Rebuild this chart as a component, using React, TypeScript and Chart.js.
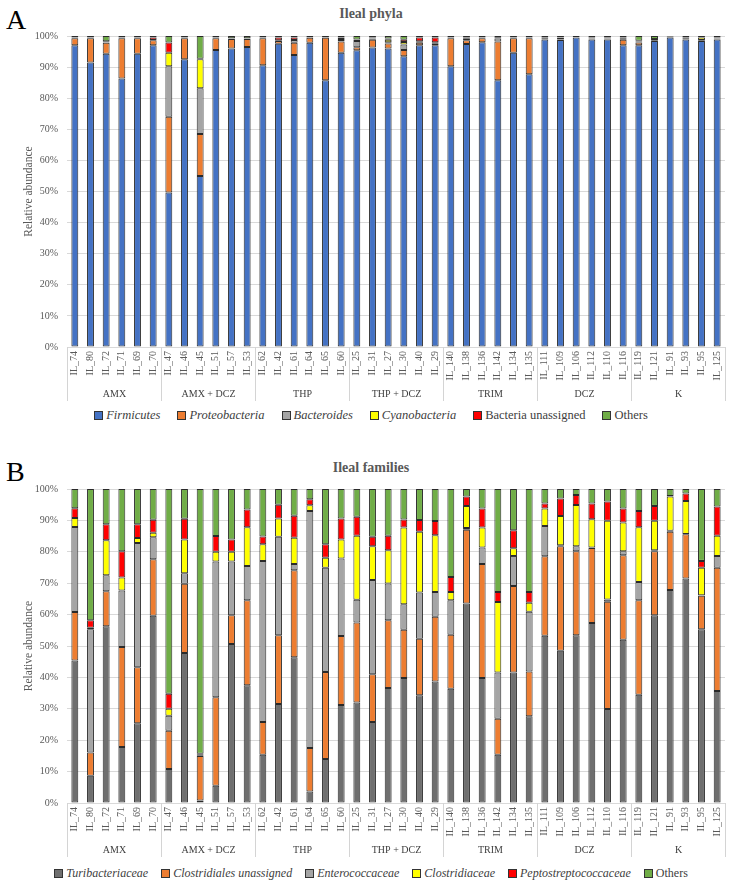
import React, { useEffect, useRef } from "react";
import { Chart, registerables } from "chart.js";
Chart.register(...registerables);

const FONT = "'Liberation Serif', 'DejaVu Serif', serif";

const samples = [
  "IL_74", "IL_80", "IL_72", "IL_71", "IL_69", "IL_70",
  "IL_47", "IL_46", "IL_45", "IL_51", "IL_57", "IL_53",
  "IL_62", "IL_42", "IL_61", "IL_64", "IL_65", "IL_60",
  "IL_25", "IL_31", "IL_27", "IL_30", "IL_40", "IL_29",
  "IL_140", "IL_138", "IL_136", "IL_142", "IL_134", "IL_135",
  "IL_111", "IL_109", "IL_106", "IL_112", "IL_110", "IL_116",
  "IL_119", "IL_121", "IL_91", "IL_93", "IL_95", "IL_125",
];
const groups = ["AMX", "AMX + DCZ", "THP", "THP + DCZ", "TRIM", "DCZ", "K"];
const groupSize = 6;
const yTickValues = [0, 10, 20, 30, 40, 50, 60, 70, 80, 90, 100];

// Panel A: Ileal phyla
const phylaNames = ["Firmicutes", "Proteobacteria", "Bacteroides", "Cyanobacteria", "Bacteria unassigned", "Others"];
const phylaItalic = [true, true, true, true, false, false];
const phylaColors = ["#4472C4", "#ED7D31", "#A5A5A5", "#FFFF00", "#FF0000", "#70AD47"];
const firmicutes = [97.0, 91.5, 94.3, 86.3, 94.3, 97.0, 49.7, 92.5, 55.0, 95.5, 96.0, 96.5, 90.6, 97.5, 93.9, 97.8, 85.8, 94.6, 95.4, 96.3, 96.0, 93.5, 97.0, 97.0, 90.3, 97.4, 98.0, 85.8, 94.6, 87.7, 98.9, 98.7, 99.5, 98.9, 98.9, 97.0, 97.0, 98.4, 99.5, 98.9, 98.4, 98.9];
const proteobacteria = [2.3, 7.8, 3.5, 13.0, 5.0, 1.6, 24.3, 6.8, 13.5, 3.8, 3.0, 2.5, 8.7, 0.9, 3.9, 1.6, 13.6, 3.6, 1.0, 2.5, 1.6, 2.0, 0.8, 0.7, 9.0, 1.2, 1.3, 12.4, 4.7, 11.6, 0.2, 0.2, 0.1, 0.2, 0.2, 1.8, 0.9, 0.2, 0.3, 0.1, 0.2, 0.2];
const bacteroides = [0.1, 0.1, 0.2, 0.1, 0.1, 0.1, 16.3, 0.1, 14.7, 0.1, 0.1, 0.1, 0.1, 0.2, 0.9, 0.1, 0.1, 0.2, 2.0, 0.3, 0.4, 1.8, 0.5, 0.3, 0.1, 0.7, 0.1, 1.0, 0.1, 0.1, 0, 0, 0, 0.2, 0.2, 0.3, 0.2, 0.1, 0, 0.1, 0.1, 0.1];
const cyanobacteria = [0, 0, 0, 0, 0, 0, 4.3, 0, 9.3, 0, 0, 0, 0, 0, 0, 0, 0, 0.6, 0.3, 0.2, 0.8, 0.8, 0, 0, 0, 0, 0, 0, 0, 0, 0, 0.5, 0, 0, 0, 0, 0.1, 0, 0, 0.4, 0.8, 0];
const bactUnassigned = [0.1, 0.1, 0.3, 0.1, 0.1, 0.8, 3.3, 0.1, 0.2, 0.1, 0.2, 0.2, 0.1, 0.9, 0.8, 0, 0, 0.5, 0.2, 0.2, 0.4, 0.7, 1.2, 1.5, 0.1, 0.2, 0.1, 0.2, 0.1, 0.1, 0.4, 0.1, 0, 0.2, 0.2, 0.4, 0.3, 0.3, 0, 0, 0, 0.3];
const phylaOthers = [0.5, 0.5, 1.7, 0.5, 0.5, 0.5, 2.1, 0.5, 7.3, 0.5, 0.7, 0.7, 0.5, 0.5, 0.5, 0.5, 0.5, 0.5, 1.1, 0.5, 0.8, 1.2, 0.5, 0.5, 0.5, 0.5, 0.5, 0.6, 0.5, 0.5, 0.5, 0.5, 0.4, 0.5, 0.5, 0.5, 1.5, 1.0, 0.2, 0.5, 0.5, 0.5];

// Panel B: Ileal families
const familyNames = ["Turibacteriaceae", "Clostridiales unassigned", "Enterococcaceae", "Clostridiaceae", "Peptostreptococcaceae", "Others"];
const familyItalic = [true, true, true, true, true, false];
const familyColors = ["#6F6F6F", "#ED7D31", "#A5A5A5", "#FFFF00", "#FF0000", "#70AD47"];
const turibacteriaceae = [45.4, 8.7, 56.3, 17.8, 25.4, 59.6, 10.8, 47.8, 0.8, 5.5, 50.6, 37.5, 15.4, 31.5, 46.4, 3.7, 14.0, 31.2, 32.0, 25.8, 36.6, 39.8, 34.3, 38.7, 36.4, 63.5, 39.8, 15.4, 41.6, 27.6, 53.3, 48.5, 53.4, 57.3, 29.9, 52.0, 34.5, 59.8, 67.8, 71.5, 55.3, 35.7];
const clostridialesUnassigned = [15.4, 7.4, 11.1, 31.9, 17.8, 18.0, 12.2, 22.0, 14.2, 28.2, 9.2, 27.1, 10.4, 21.9, 27.7, 13.8, 27.7, 22.0, 25.5, 15.2, 21.6, 15.4, 18.0, 20.6, 17.2, 23.5, 36.3, 11.4, 27.5, 14.3, 25.3, 33.3, 26.8, 23.9, 34.2, 26.9, 30.1, 20.4, 18.6, 14.1, 10.7, 39.2];
const enterococcaceae = [27.1, 39.2, 5.1, 18.0, 39.6, 7.0, 4.8, 3.4, 0.2, 43.2, 17.1, 10.9, 51.3, 31.4, 2.0, 75.5, 33.2, 24.7, 7.2, 30.0, 11.7, 8.1, 14.7, 7.9, 11.0, 0.6, 5.3, 14.8, 9.6, 19.0, 9.6, 0.3, 1.6, 0.2, 0.7, 1.3, 5.8, 0.3, 0.3, 0.1, 0.2, 3.8];
const clostridiaceae = [2.9, 0.5, 11.2, 4.1, 1.6, 1.5, 2.2, 10.7, 0.2, 3.1, 3.1, 12.3, 5.3, 5.8, 8.4, 1.8, 3.2, 6.0, 20.4, 10.8, 10.6, 24.4, 19.4, 18.1, 2.6, 7.0, 6.3, 22.4, 2.4, 2.9, 5.6, 9.3, 13.1, 9.0, 25.1, 9.1, 17.4, 9.4, 10.9, 10.5, 8.7, 6.4];
const peptostreptococcaceae = [3.1, 2.4, 5.1, 8.4, 4.4, 4.1, 4.8, 6.6, 0.3, 5.0, 3.9, 5.7, 2.5, 4.4, 7.0, 1.9, 4.3, 6.7, 6.1, 3.0, 4.6, 2.6, 3.7, 4.5, 4.8, 3.0, 6.1, 3.2, 5.8, 3.4, 1.6, 5.6, 3.2, 5.0, 6.1, 4.5, 5.2, 4.7, 0.2, 2.4, 2.2, 9.3];
const familyOthers = [6.1, 41.8, 11.2, 19.8, 11.2, 9.8, 65.2, 9.5, 84.3, 15.0, 16.1, 6.5, 15.1, 5.0, 8.5, 3.3, 17.6, 9.4, 8.8, 15.2, 14.9, 9.7, 9.9, 10.2, 28.0, 2.4, 6.2, 32.8, 13.1, 32.8, 4.6, 3.0, 1.9, 4.6, 4.0, 6.2, 7.0, 5.4, 2.2, 1.4, 22.9, 5.6];

const phylaSeries = [firmicutes, proteobacteria, bacteroides, cyanobacteria, bactUnassigned, phylaOthers];
const familySeries = [turibacteriaceae, clostridialesUnassigned, enterococcaceae, clostridiaceae, peptostreptococcaceae, familyOthers];

const groupPlugin = {
  id: "groupLabels",
  afterDraw(chart: any) {
    const { ctx, chartArea, scales } = chart;
    const xs = scales.x;
    const bottom = chartArea.bottom;
    const edges: number[] = [];
    for (let g = 0; g <= groups.length; g++) {
      let px: number;
      if (g === 0) px = chartArea.left;
      else if (g === groups.length) px = chartArea.right;
      else px = (xs.getPixelForValue(g * groupSize - 1) + xs.getPixelForValue(g * groupSize)) / 2;
      edges.push(Math.round(px) + 0.5);
    }
    ctx.save();
    ctx.strokeStyle = "#d4d4d4";
    ctx.lineWidth = 1;
    edges.forEach((px) => {
      ctx.beginPath();
      ctx.moveTo(px, bottom);
      ctx.lineTo(px, bottom + 54);
      ctx.stroke();
    });
    ctx.fillStyle = "#404040";
    ctx.font = `10px ${FONT}`;
    ctx.textAlign = "center";
    ctx.textBaseline = "middle";
    groups.forEach((name, g) => {
      ctx.fillText(name, (edges[g] + edges[g + 1]) / 2, bottom + 47);
    });
    ctx.restore();
  },
};

function makeConfig(names: string[], colors: string[], series: number[][], axisHeight: number, padTop: number) {
  return {
    type: "bar" as const,
    data: {
      labels: samples,
      datasets: names.map((n, i) => ({
        label: n,
        data: series[i],
        backgroundColor: colors[i],
        borderColor: "#2a2a2a",
        borderWidth: 1,
        borderSkipped: false,
        barPercentage: 0.44,
        categoryPercentage: 1,
      })),
    },
    options: {
      responsive: false,
      animation: false as const,
      layout: { padding: { top: padTop, left: 18, right: 9, bottom: 0 } },
      plugins: { legend: { display: false }, tooltip: { enabled: false }, title: { display: false } },
      scales: {
        x: {
          stacked: true,
          grid: { display: false, drawTicks: false },
          border: { display: false },
          ticks: {
            autoSkip: false,
            maxRotation: 90,
            minRotation: 90,
            padding: 4,
            color: "#595959",
            font: { family: FONT, size: 10 },
          },
          afterFit: (s: any) => { s.height = axisHeight; },
        },
        y: {
          stacked: true,
          min: 0,
          max: 100,
          afterBuildTicks: (s: any) => { s.ticks = yTickValues.map((v) => ({ value: v })); },
          grid: { color: "#d9d9d9", drawTicks: false },
          border: { display: false },
          ticks: {
            padding: 9,
            color: "#595959",
            font: { family: FONT, size: 10 },
            callback: (v: any) => `${v}%`,
          },
          title: {
            display: true,
            text: "Relative abundance",
            color: "#595959",
            font: { family: FONT, size: 11.5 },
          },
          afterFit: (s: any) => { s.width = 49; },
        },
      },
    },
    plugins: [groupPlugin],
  };
}

function StackedChart(props: { top: number; height: number; names: string[]; colors: string[]; series: number[][]; axisHeight: number; padTop: number }) {
  const ref = useRef<HTMLCanvasElement | null>(null);
  useEffect(() => {
    if (!ref.current) return;
    const chart = new Chart(ref.current, makeConfig(props.names, props.colors, props.series, props.axisHeight, props.padTop) as any);
    return () => chart.destroy();
  }, []);
  return (
    <canvas
      ref={ref}
      width={734}
      height={props.height}
      style={{ position: "absolute", left: 0, top: props.top, width: 734, height: props.height }}
    />
  );
}

function Legend(props: { top: number; names: string[]; colors: string[]; italic: boolean[]; fontSize: number; gap: number }) {
  return (
    <div
      style={{
        position: "absolute",
        left: 0,
        top: props.top,
        width: 742,
        display: "flex",
        justifyContent: "center",
        alignItems: "center",
        fontFamily: FONT,
        fontSize: props.fontSize,
        color: "#404040",
        whiteSpace: "nowrap",
      }}
    >
      {props.names.map((n, i) => (
        <div key={n} style={{ display: "flex", alignItems: "center", marginRight: i < props.names.length - 1 ? props.gap : 0 }}>
          <span
            style={{
              display: "inline-block",
              width: 7,
              height: 7,
              background: props.colors[i],
              border: "1px solid #333",
              marginRight: 3,
            }}
          />
          <span style={{ fontStyle: props.italic[i] ? "italic" : "normal" }}>{n}</span>
        </div>
      ))}
    </div>
  );
}

const letterStyle: React.CSSProperties = {
  position: "absolute",
  left: 6,
  fontFamily: FONT,
  fontSize: 28,
  color: "#000",
  lineHeight: "28px",
};
const titleStyle: React.CSSProperties = {
  position: "absolute",
  left: 0,
  width: 742,
  textAlign: "center",
  fontFamily: FONT,
  fontSize: 14,
  fontWeight: "bold",
  color: "#595959",
  lineHeight: "16px",
};

export default function App() {
  return (
    <div style={{ position: "absolute", left: 0, top: 0, width: 734, height: 892, background: "#fff", overflow: "hidden" }}>
      <div style={{ ...letterStyle, top: 6 }}>A</div>
      <div style={{ ...titleStyle, top: 6 }}>Ileal phyla</div>
      <StackedChart top={0} height={405} names={phylaNames} colors={phylaColors} series={phylaSeries} axisHeight={58} padTop={36} />
      <Legend top={408} names={phylaNames} colors={phylaColors} italic={phylaItalic} fontSize={12.5} gap={17} />

      <div style={{ ...letterStyle, top: 458 }}>B</div>
      <div style={{ ...titleStyle, top: 460 }}>Ileal families</div>
      <StackedChart top={445} height={415} names={familyNames} colors={familyColors} series={familySeries} axisHeight={57} padTop={44} />
      <Legend top={866} names={familyNames} colors={familyColors} italic={familyItalic} fontSize={12} gap={13} />
    </div>
  );
}
